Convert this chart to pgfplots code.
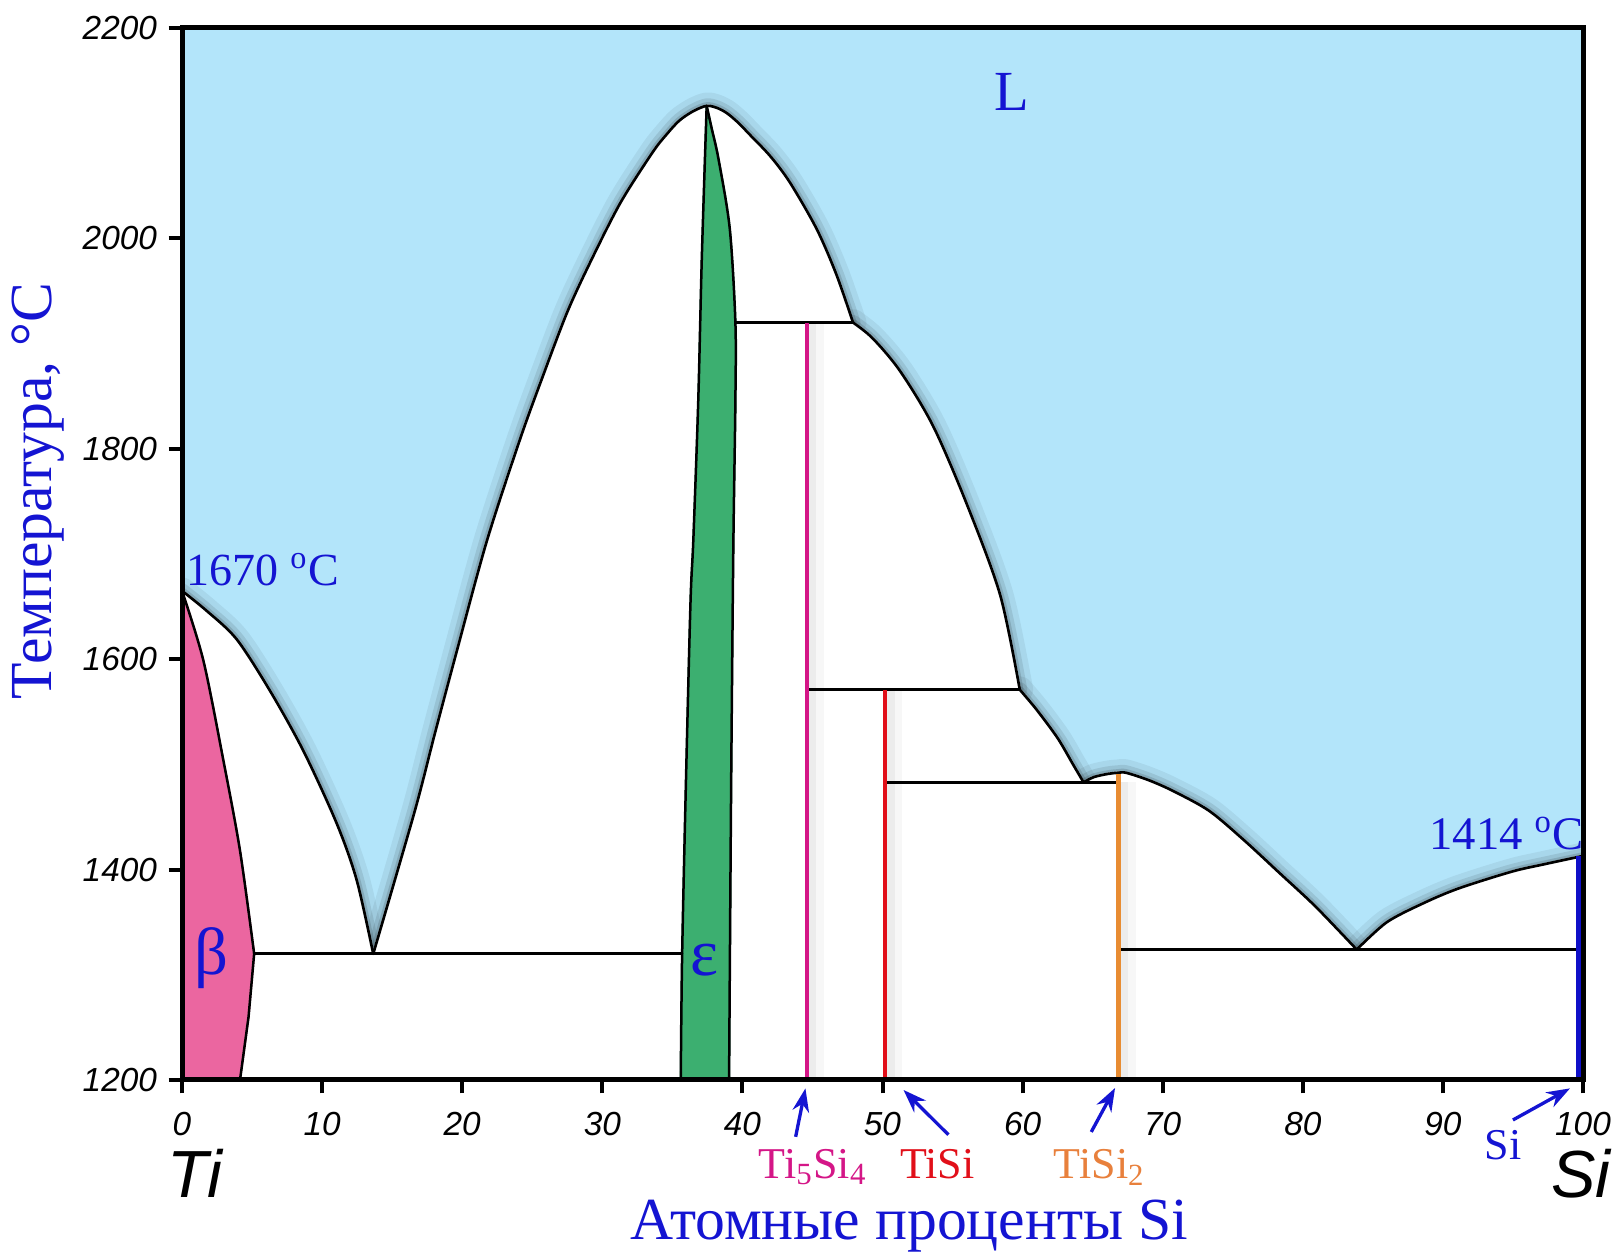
\documentclass[border=0pt]{standalone}
\usepackage{fontspec}
\setmainfont{Liberation Serif}
\setsansfont{Liberation Sans}
\usepackage{pgfplots}
\usepackage{pgfplotstable}
\pgfplotsset{compat=1.18}
\usetikzlibrary{arrows.meta}

\definecolor{liq}{RGB}{179,229,250}
\definecolor{betac}{RGB}{235,102,160}
\definecolor{epsc}{RGB}{60,175,112}
\definecolor{txtblue}{RGB}{20,20,210}
\definecolor{mag}{RGB}{212,22,135}
\definecolor{tisired}{RGB}{225,15,25}
\definecolor{orng}{RGB}{232,140,50}
\definecolor{orngtxt}{RGB}{232,128,60}
\definecolor{siblue}{RGB}{15,15,200}

% ---- liquidus, by segment (x = at.% Si, y = T, deg C) ----
\pgfplotstableread{
x y
0 1665
1.76 1646
3.9 1619
6.28 1570
8.66 1513
11.04 1444
12.47 1390
13.65 1320
}\segA
\pgfplotstableread{
x y
13.65 1320
16.6 1455
18.06 1530
19.6 1607
21.75 1712
24.1 1808
25.7 1867
27.5 1930
29.2 1979
31.3 2034
33.6 2082
34.6 2099
35.5 2112
36.5 2121
37.45 2126
38.2 2124
38.9 2119
39.7 2110
40.5 2099
42.0 2078
43.4 2053
45.3 2009
46.7 1966
47.9 1920
}\segB
\pgfplotstableread{
x y
47.9 1920
49.3 1905
51.25 1874
53.6 1822
56.0 1748
58.4 1661
59.8 1571
}\segC
\pgfplotstableread{
x y
59.8 1571
61.0 1552
62.5 1525
63.6 1500
64.35 1483
}\segD
\pgfplotstableread{
x y
64.35 1483
65.1 1488
66.1 1491
66.8 1492
67.4 1492
69.0 1485
70.7 1475
73.3 1456
75.8 1428
78.4 1396
80.9 1365
83.85 1324
}\segE
\pgfplotstableread{
x y
83.85 1324
86.0 1350
88.6 1368
91.1 1382
94.9 1398
97.2 1405
100 1413
}\segF
% solid region, corner points
\pgfplotstableread{
x y
0 1200
0 1665
13.65 1320
47.9 1920
59.8 1571
64.35 1483
83.85 1324
100 1413
100 1200
}\solidbase

% beta (Ti) solid solution
\pgfplotstableread{
x y
0 1200
0 1665
5.15 1320
4.75 1260
4.14 1200
}\betabase
\pgfplotstableread{
x y
0 1665
1.52 1599
2.95 1504
4.14 1418
5.15 1320
}\betaA
\pgfplotstableread{
x y
5.15 1320
4.75 1260
4.14 1200
}\betaB

% epsilon (Ti5Si3)
\pgfplotstableread{
x y
35.6 1200
37.45 2126
39.05 1200
}\epsbase
\pgfplotstableread{
x y
35.6 1200
35.7 1320
36.0 1500
36.3 1656
36.5 1714
36.85 1846
37.1 1980
37.45 2126
}\epsL
\pgfplotstableread{
x y
37.45 2126
37.8 2105
38.3 2075
39.1 2009
39.5 1920
39.5 1846
39.35 1704
39.2 1486
39.1 1300
39.05 1200
}\epsR

\begin{document}
\begin{tikzpicture}
\path[use as bounding box] (0,0) rectangle (485.7pt,377.1pt);
\begin{axis}[
  at={(54.6pt,53.1pt)}, anchor=south west,
  scale only axis, width=420.3pt, height=315.6pt,
  xmin=0, xmax=100, ymin=1200, ymax=2200,
  xtick={0,10,...,100}, ytick={1200,1400,...,2200},
  tick pos=left, tick align=outside, major tick length=4pt,
  axis line style={line width=1.5pt},
  tick style={black, line width=1.2pt},
  ticklabel style={font=\sffamily\itshape\fontsize{10}{12}\selectfont},
  xticklabel style={yshift=-2pt},
  /pgf/number format/assume math mode=true,
  /pgf/number format/1000 sep={},
  axis background/.style={fill=liq},
  axis on top,
  clip mode=individual,
  no marks,
  every axis plot/.append style={line join=round, line cap=round},
  shA/.style={draw=black, draw opacity=0.06, line width=8pt, smooth},
  shB/.style={draw=black, draw opacity=0.09, line width=4.5pt, smooth},
  shC/.style={draw=black, draw opacity=0.13, line width=2.2pt, smooth},
  wfill/.style={fill=white, draw=white, line width=0.7pt, smooth},
  liqline/.style={black, line width=0.8pt, smooth},
  phline/.style={black, line width=0.75pt},
  cshA/.style={black, draw opacity=0.045, line width=2.5pt, xshift=1.6pt, line cap=butt},
  cshB/.style={black, draw opacity=0.03, line width=5pt, xshift=2.6pt, line cap=butt},
]
% shadow of the liquidus on the liquid side
\addplot[shA] table {\segA};
\addplot[shB] table {\segA};
\addplot[shC] table {\segA};
\addplot[shA] table {\segB};
\addplot[shB] table {\segB};
\addplot[shC] table {\segB};
\addplot[shA] table {\segC};
\addplot[shB] table {\segC};
\addplot[shC] table {\segC};
\addplot[shA] table {\segD};
\addplot[shB] table {\segD};
\addplot[shC] table {\segD};
\addplot[shA] table {\segE};
\addplot[shB] table {\segE};
\addplot[shC] table {\segE};
\addplot[shA] table {\segF};
\addplot[shB] table {\segF};
\addplot[shC] table {\segF};
% solid region
\addplot[fill=white, draw=white, line width=0.7pt] table {\solidbase};
\addplot[wfill] table {\segA};
\addplot[wfill] table {\segB};
\addplot[wfill] table {\segC};
\addplot[wfill] table {\segD};
\addplot[wfill] table {\segE};
\addplot[wfill] table {\segF};
% soft shadows beside the compound lines
\addplot[cshA] coordinates {(44.6,1200) (44.6,1920)};
\addplot[cshB] coordinates {(44.6,1200) (44.6,1920)};
\addplot[cshA] coordinates {(50.2,1200) (50.2,1571)};
\addplot[cshB] coordinates {(50.2,1200) (50.2,1571)};
\addplot[cshA] coordinates {(66.85,1200) (66.85,1483)};
\addplot[cshB] coordinates {(66.85,1200) (66.85,1483)};
% beta
\addplot[fill=betac, draw=betac, line width=0.6pt] table {\betabase};
\addplot[fill=betac, draw=betac, line width=0.6pt, smooth] table {\betaA};
\addplot[black, line width=0.75pt, smooth] table {\betaA};
\addplot[black, line width=0.75pt] table {\betaB};
% epsilon
\addplot[fill=epsc, draw=epsc, line width=0.6pt] table {\epsbase};
\addplot[fill=epsc, draw=epsc, line width=0.6pt, smooth] table {\epsL};
\addplot[fill=epsc, draw=epsc, line width=0.6pt, smooth] table {\epsR};
\addplot[black, line width=0.75pt, smooth] table {\epsL};
\addplot[black, line width=0.75pt, smooth] table {\epsR};
% invariant lines
\addplot[phline] coordinates {(5.15,1320) (35.7,1320)};
\addplot[phline] coordinates {(39.5,1920) (47.9,1920)};
\addplot[phline] coordinates {(44.6,1571) (59.8,1571)};
\addplot[phline] coordinates {(50.2,1483) (66.85,1483)};
\addplot[phline] coordinates {(66.85,1324) (100,1324)};
% liquidus
\addplot[liqline] table {\segA};
\addplot[liqline] table {\segB};
\addplot[liqline] table {\segC};
\addplot[liqline] table {\segD};
\addplot[liqline] table {\segE};
\addplot[liqline] table {\segF};
% compounds
\addplot[mag, line width=1.3pt, line cap=butt] coordinates {(44.6,1200) (44.6,1920)};
\addplot[tisired, line width=1.3pt, line cap=butt] coordinates {(50.2,1200) (50.2,1571)};
\addplot[orng, line width=1.3pt, line cap=butt] coordinates {(66.85,1200) (66.85,1491)};
\addplot[siblue, line width=1.6pt, line cap=butt] coordinates {(99.7,1200) (99.7,1413)};

% labels
\node[txtblue, inner sep=0, font=\fontsize{17}{20}\selectfont] at (59.2,2139) {L};
\node[txtblue, inner sep=0, anchor=base west, font=\fontsize{13.8}{16}\selectfont] at (0.3,1670) {1670 \textsuperscript{o}C};
\node[txtblue, inner sep=0, anchor=base east, font=\fontsize{14}{16}\selectfont] at (100.1,1419) {1414 \textsuperscript{o}C};
\node[txtblue, inner sep=0, font=\fontsize{20}{24}\selectfont] at (2.1,1316) {β};
\node[txtblue, inner sep=0, font=\fontsize{20}{24}\selectfont] at (37.3,1314) {ε};

\node[txtblue, inner sep=0, rotate=90, font=\fontsize{17.9}{20}\selectfont] at (-10.28,1760) {Температура, °С};
\node[txtblue, inner sep=0, anchor=base, font=\fontsize{17.9}{20}\selectfont] at (51.9,1048) {Атомные проценты Si};

\node[inner sep=0, anchor=base, font=\sffamily\itshape\fontsize{20}{24}\selectfont] at (0.93,1088) {Ti};
\node[inner sep=0, anchor=base, font=\sffamily\itshape\fontsize{20}{24}\selectfont] at (99.86,1088) {Si};

\node[mag, inner sep=0, anchor=base, font=\fontsize{13.2}{15}\selectfont] at (45.04,1106.4) {Ti\textsubscript{5}Si\textsubscript{4}};
\node[tisired, inner sep=0, anchor=base, font=\fontsize{13.2}{15}\selectfont] at (53.9,1106.4) {TiSi};
\node[orngtxt, inner sep=0, anchor=base, font=\fontsize{13.2}{15}\selectfont] at (65.5,1106.4) {TiSi\textsubscript{2}};
\node[txtblue, inner sep=0, anchor=base, font=\fontsize{13.2}{15}\selectfont] at (94.3,1124) {Si};

% arrows
\draw[txtblue, line width=1pt, -{Stealth[length=7pt,width=5pt]}] (43.8,1146) -- (44.5,1192);
\draw[txtblue, line width=1pt, -{Stealth[length=7pt,width=5pt]}] (54.7,1148) -- (51.5,1190.5);
\draw[txtblue, line width=1pt, -{Stealth[length=7pt,width=5pt]}] (64.9,1150.6) -- (66.6,1192.4);
\draw[txtblue, line width=1pt, -{Stealth[length=7pt,width=5pt]}] (95.0,1162) -- (99.07,1192);
\end{axis}
\end{tikzpicture}
\end{document}
